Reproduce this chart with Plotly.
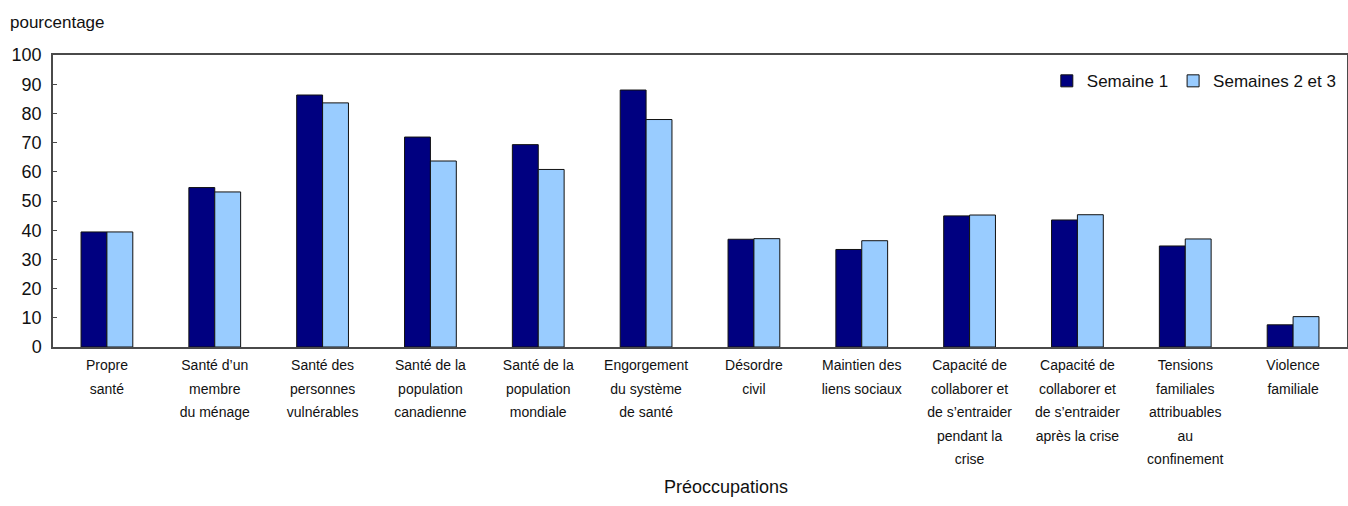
import plotly.graph_objects as go

# Concern categories, one list of label lines per category
categories = [
    ["Propre", "santé"],
    ["Santé d’un", "membre", "du ménage"],
    ["Santé des", "personnes", "vulnérables"],
    ["Santé de la", "population", "canadienne"],
    ["Santé de la", "population", "mondiale"],
    ["Engorgement", "du système", "de santé"],
    ["Désordre", "civil"],
    ["Maintien des", "liens sociaux"],
    ["Capacité de", "collaborer et", "de s’entraider", "pendant la", "crise"],
    ["Capacité de", "collaborer et", "de s’entraider", "après la crise"],
    ["Tensions", "familiales", "attribuables", "au", "confinement"],
    ["Violence", "familiale"],
]

semaine_1 = [39.4, 54.6, 86.3, 71.9, 69.3, 88.0, 36.9, 33.4, 44.9, 43.5, 34.6, 7.6]
semaines_2_3 = [39.4, 53.1, 83.6, 63.7, 60.8, 77.9, 37.1, 36.4, 45.2, 45.3, 37.0, 10.4]

y_ticks = [0, 10, 20, 30, 40, 50, 60, 70, 80, 90, 100]

keys = [" ".join(lines) for lines in categories]
# Small glyphs inside a taller line box give the wide line spacing
tick_text = [
    "<br>".join(f"<span style='font-size:14px'>{ln}</span>" for ln in lines)
    for lines in categories
]

NARROW = "Liberation Sans Narrow, Arial Narrow, Liberation Sans, Arial, sans-serif"
SANS = "Liberation Sans, Arial, Helvetica, sans-serif"
AXIS_COLOR = "#4a4a4a"

fig = go.Figure()
fig.add_trace(go.Bar(
    name="Semaine 1", x=keys, y=semaine_1,
    marker=dict(color="#000080", line=dict(color="#111111", width=1)),
))
fig.add_trace(go.Bar(
    name="Semaines 2 et 3", x=keys, y=semaines_2_3,
    marker=dict(color="#99CCFF", line=dict(color="#111111", width=1)),
))

fig.update_layout(
    width=1348, height=506,
    margin=dict(l=53, r=1, t=55, b=159, autoexpand=False),
    paper_bgcolor="white", plot_bgcolor="white",
    barmode="group", bargap=0.52, bargroupgap=0,
    font=dict(family=SANS, size=18, color="#111111"),
    showlegend=True,
    legend=dict(
        orientation="h", x=0.996, xanchor="right", y=0.91, yanchor="middle",
        font=dict(family=SANS, size=17, color="#111111"),
        itemwidth=30, bgcolor="rgba(0,0,0,0)",
    ),
    xaxis=dict(
        type="category", range=[-0.5, len(keys) - 0.5],
        tickmode="array", tickvals=keys, ticktext=tick_text,
        tickfont=dict(family=NARROW, size=18, color="#111111"),
        ticks="", showgrid=False, automargin=False,
        showline=True, linecolor=AXIS_COLOR, linewidth=1.5, mirror=True,
        ticklabelstandoff=0,
    ),
    yaxis=dict(
        range=[0, 100], tickmode="array", tickvals=y_ticks,
        tickfont=dict(family=SANS, size=18, color="#111111"),
        ticks="inside", ticklen=4, tickcolor=AXIS_COLOR, tickwidth=1,
        showgrid=False, zeroline=False, automargin=False,
        showline=True, linecolor=AXIS_COLOR, linewidth=1.5, mirror=True,
        ticklabelstandoff=6,
    ),
    annotations=[
        dict(text="pourcentage", xref="paper", yref="paper",
             x=-0.0348, y=1.112, xanchor="left", yanchor="middle",
             showarrow=False, font=dict(family=SANS, size=17, color="#111111")),
        dict(text="Préoccupations", xref="paper", yref="paper",
             x=0.52, y=-0.4805, xanchor="center", yanchor="middle",
             showarrow=False, font=dict(family=SANS, size=18, color="#111111")),
    ],
)

fig.write_html("out.html")
